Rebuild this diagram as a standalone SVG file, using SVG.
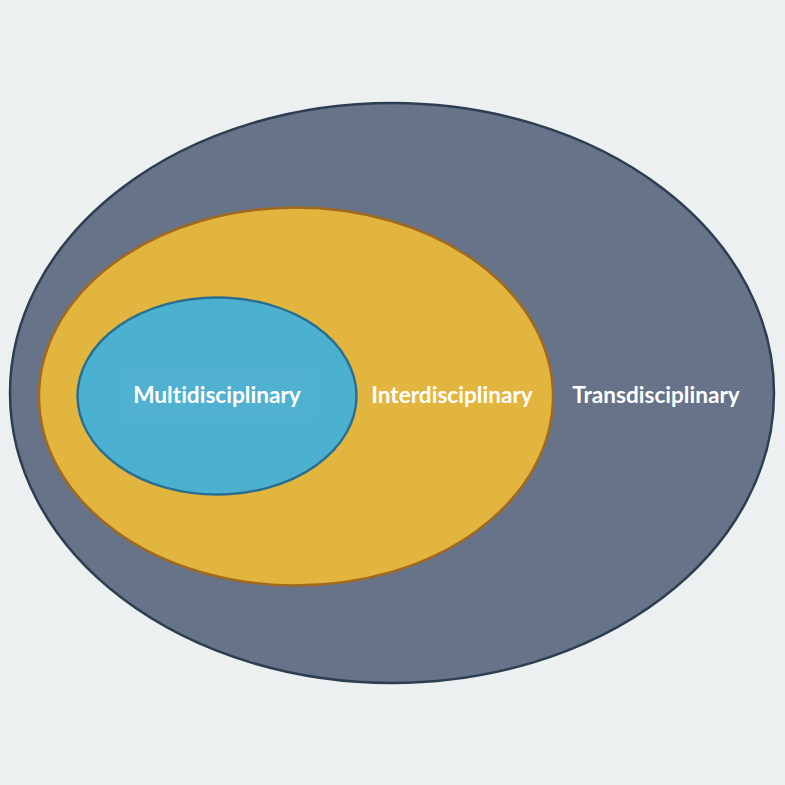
<svg xmlns="http://www.w3.org/2000/svg" width="785" height="785" viewBox="0 0 785 785">
<style>
.lbl{font-family:Lato,"Liberation Sans",sans-serif;font-weight:bold;font-size:22.6px;fill:#ffffff;text-anchor:middle;dominant-baseline:central;font-variant-ligatures:none}
</style>
<rect width="785" height="785" fill="#ecf0f1"/>
<g id="trans">
<ellipse cx="392" cy="393" rx="382" ry="290" fill="#667389" stroke="#2c3e50" stroke-width="2.5"/>
<text class="lbl" x="656" y="394">Transdisciplinary</text>
</g>
<g id="inter">
<ellipse cx="296" cy="396.5" rx="257" ry="189" fill="#e2b53e" stroke="#a0691f" stroke-width="2.5"/>
<text class="lbl" x="452" y="394">Interdisciplinary</text>
</g>
<g id="multi">
<ellipse cx="217" cy="396" rx="139.5" ry="98.5" fill="#4cb0d0" stroke="#2a6f8f" stroke-width="2.5"/>
<rect x="120" y="366" width="195" height="56" fill="#ffffff" fill-opacity="0.025"/>
<text class="lbl" x="217" y="394">Multidisciplinary</text>
</g>
<g id="connectors"/>
</svg>
